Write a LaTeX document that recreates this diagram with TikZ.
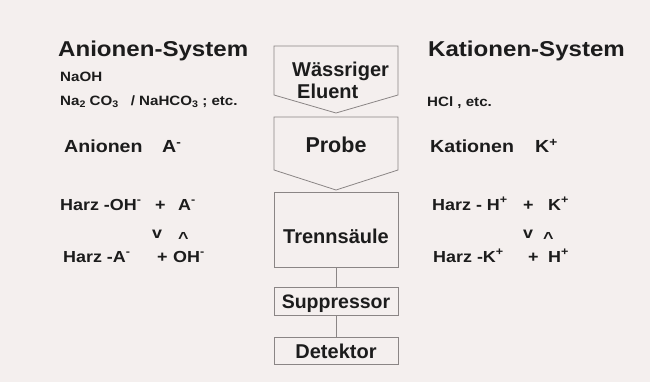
\documentclass[tikz,border=0pt]{standalone}
\usepackage{fontspec}
\setmainfont{Liberation Sans}
\newfontfamily\wf{Liberation Sans}[FakeStretch=1.12]
\definecolor{bg}{HTML}{F4EFEE}
\definecolor{ink}{HTML}{1C1C1C}
\definecolor{edge}{HTML}{8A8585}
\newcommand{\hoch}[1]{\textsuperscript{#1}}
\newcommand{\tief}[1]{\raisebox{-0.15ex}{\fontsize{9.5}{9.5}\selectfont #1}}
\begin{document}
\begin{tikzpicture}[x=1pt,y=-1pt,
  side/.style={anchor=base west, inner sep=0pt, text=ink},
  ttl/.style={side, font=\wf\bfseries\fontsize{21.5}{22}\selectfont},
  sml/.style={side, font=\wf\bfseries\fontsize{13.5}{14}\selectfont},
  mid/.style={side, font=\wf\bfseries\fontsize{17.5}{18}\selectfont},
  eqn/.style={side, font=\wf\bfseries\fontsize{16}{16}\selectfont},
  ctr/.style={anchor=base, inner sep=0pt, text=ink, font=\bfseries\fontsize{20}{20}\selectfont},
  boxline/.style={draw=edge, line width=0.8pt},
  conn/.style={draw=edge, line width=0.8pt}]
\fill[bg] (0,0) rectangle (650,382);
\useasboundingbox (0,0) rectangle (650,382);

% center column
\draw[boxline] (274,46) -- (398,46) -- (398,95) -- (336,113) -- (274,95) -- cycle;
\draw[boxline] (274,117) -- (398,117) -- (398,170) -- (336,190) -- (274,170) -- cycle;
\node[boxline, inner sep=0pt, minimum width=124pt, minimum height=75pt] (trenn) at (336,229.5) {};
\node[boxline, inner sep=0pt, minimum width=124pt, minimum height=28pt] (supp) at (336,301) {};
\node[boxline, inner sep=0pt, minimum width=124pt, minimum height=27pt] (det) at (336,350.5) {};
\draw[conn] (trenn.south) -- (supp.north);
\draw[conn] (supp.south) -- (det.north);

\node[ctr, anchor=base west] (w1) at (292,77) {Wässriger};
\node[ctr, anchor=base west] (w2) at (297,99) {Eluent};
\node[ctr, font=\bfseries\fontsize{21.5}{22}\selectfont] (probe) at (336,153) {Probe};
\node[ctr] (trt) at (336,243) {Trennsäule};
\node[ctr, font=\bfseries\fontsize{19.5}{20}\selectfont] (supt) at (336,308) {Suppressor};
\node[ctr] (dett) at (336,358) {Detektor};

% left side
\node[ttl] (at) at (58,57) {Anionen-System};
\node[sml] (a1) at (60,82) {NaOH};
\node[sml] (a2) at (60,106) {Na\tief{2}\ CO\tief{3}\ \ \ /\ NaHCO\tief{3}\ ; etc.};
\node[mid] (a3) at (64,153) {Anionen};
\node[mid] (a4) at (162,153) {A\hoch{-}};
\node[eqn] (a5) at (60,210) {Harz -OH\hoch{-}};
\node[eqn] (a6) at (155,210) {+};
\node[eqn] (a7) at (178,210) {A\hoch{-}};
\node[eqn] (a8) at (152,238) {v};
\node[eqn] (a9) at (178,243) {\^{}};
\node[eqn] (a10) at (63,262) {Harz -A\hoch{-}};
\node[eqn] (a11) at (157,262) {+};
\node[eqn] (a12) at (173,262) {OH\hoch{-}};

% right side
\node[ttl] (kt) at (428,57) {Kationen-System};
\node[sml] (k1) at (427,107) {HCl , etc.};
\node[mid] (k3) at (430,153) {Kationen};
\node[mid] (k4) at (535,153) {K\hoch{+}};
\node[eqn] (k5) at (432,210) {Harz - H\hoch{+}};
\node[eqn] (k6) at (523,210) {+};
\node[eqn] (k7) at (548,210) {K\hoch{+}};
\node[eqn] (k8) at (523,238) {v};
\node[eqn] (k9) at (543,243) {\^{}};
\node[eqn] (k10) at (433,262) {Harz -K\hoch{+}};
\node[eqn] (k11) at (528,262) {+};
\node[eqn] (k12) at (548,262) {H\hoch{+}};
\end{tikzpicture}
\end{document}
